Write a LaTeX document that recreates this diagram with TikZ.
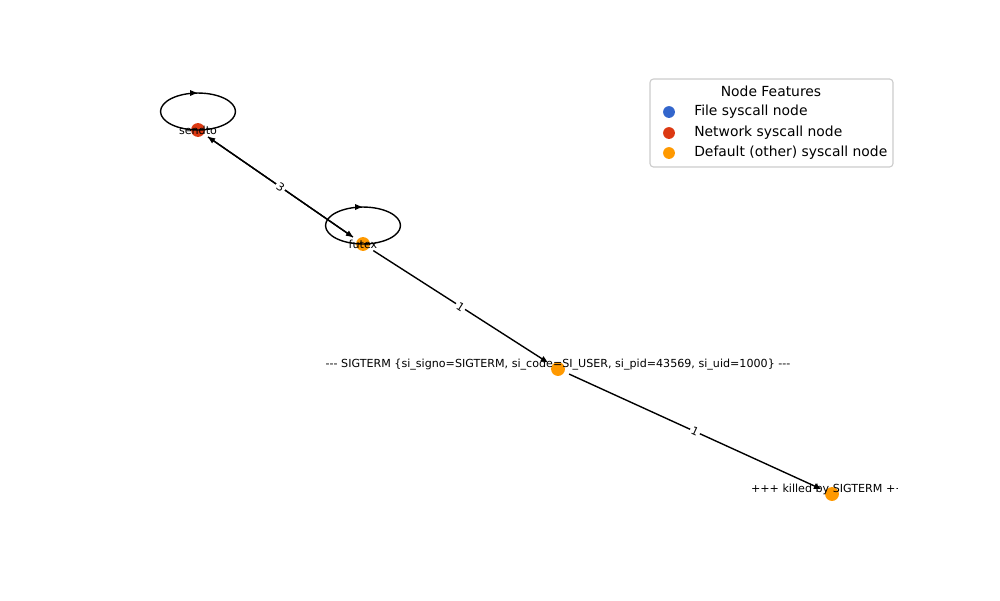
\documentclass[tikz,border=0pt]{standalone}
\usepackage{fontspec}
\setmainfont{DejaVu Sans}
\usetikzlibrary{arrows.meta,calc}
\definecolor{fileblue}{HTML}{3366CC}
\definecolor{netred}{HTML}{DC3912}
\definecolor{otherorange}{HTML}{FF9900}
\definecolor{legendedge}{HTML}{CCCCCC}

\begin{document}
\begin{tikzpicture}[x=0.72pt,y=-0.72pt,
  sysnode/.style={circle,inner sep=0pt,minimum size=10pt},
  nodelabel/.style={font=\fontsize{8}{9}\selectfont,inner sep=0pt},
  calledge/.style={draw=black,line width=1pt,-{Triangle[length=5pt,width=4pt]},
    shorten >=3.6pt,shorten <=3.6pt},
  edgelabel/.style={font=\fontsize{8}{9}\selectfont,fill=white,inner sep=1.2pt,sloped,midway},
  selfloop/.style={draw=black,line width=1pt},
  loophead/.style={-{Triangle[length=5pt,width=4pt]},line width=1pt},
  legendmark/.style={circle,inner sep=0pt,minimum size=8.5pt},
  legendtext/.style={font=\fontsize{10}{12}\selectfont,anchor=west,inner sep=0pt},
]
\useasboundingbox (0,0) rectangle (1000,600);

% syscall nodes
\node[sysnode,fill=netred] (sendto) at (198,130) {};
\node[sysnode,fill=otherorange] (futex) at (363,244) {};
\node[sysnode,fill=otherorange] (sigterm) at (558,369) {};
\node[sysnode,fill=otherorange] (killed) at (832,494) {};

% self loops
\draw[selfloop] ($(sendto)+(0,-18.5)$) ellipse [x radius=27pt,y radius=13.3pt];
\draw[loophead] ($(sendto)+(-8,-37)$) -- ($(sendto)+(-1,-37)$);
\draw[selfloop] ($(futex)+(0,-18.5)$) ellipse [x radius=27pt,y radius=13.3pt];
\draw[loophead] ($(futex)+(-8,-37)$) -- ($(futex)+(-1,-37)$);

% call edges
\draw[calledge] (futex) -- (sendto);
\draw[calledge] (sendto) -- node[edgelabel] {3} (futex);
\draw[calledge] (futex) -- node[edgelabel] {1} (sigterm);
\draw[calledge] (sigterm) -- node[edgelabel] {1} (killed);

% node labels
\node[nodelabel] (sendtolabel) at (198,130.5) {sendto};
\node[nodelabel] (futexlabel) at (363,244.5) {futex};
\node[nodelabel] (sigtermlabel) at (558,364.5) {-{}-{}- SIGTERM \{si\_signo=SIGTERM, si\_code=SI\_USER, si\_pid=43569, si\_uid=1000\} -{}-{}-};
\begin{scope}
  % the axes area ends at the right, cutting the last label short
  \clip (0,0) rectangle (897,600);
  \node[nodelabel] (killedlabel) at (832.5,489.5) {+++ killed by SIGTERM +++};
\end{scope}

% legend
\draw[legendedge,fill=white,rounded corners=2.5pt,line width=0.8pt] (650,79) rectangle (893,167);
\node[font=\fontsize{10}{12}\selectfont,inner sep=0pt] (legendtitle) at (771,91) {Node Features};
\node[legendmark,fill=fileblue] (filemark) at (669,112) {};
\node[legendtext] (filetext) at (694,112) {File syscall node};
\node[legendmark,fill=netred] (netmark) at (669,133) {};
\node[legendtext] (nettext) at (694,133) {Network syscall node};
\node[legendmark,fill=otherorange] (othermark) at (669,153) {};
\node[legendtext] (othertext) at (694,153) {Default (other) syscall node};
\end{tikzpicture}
\end{document}
